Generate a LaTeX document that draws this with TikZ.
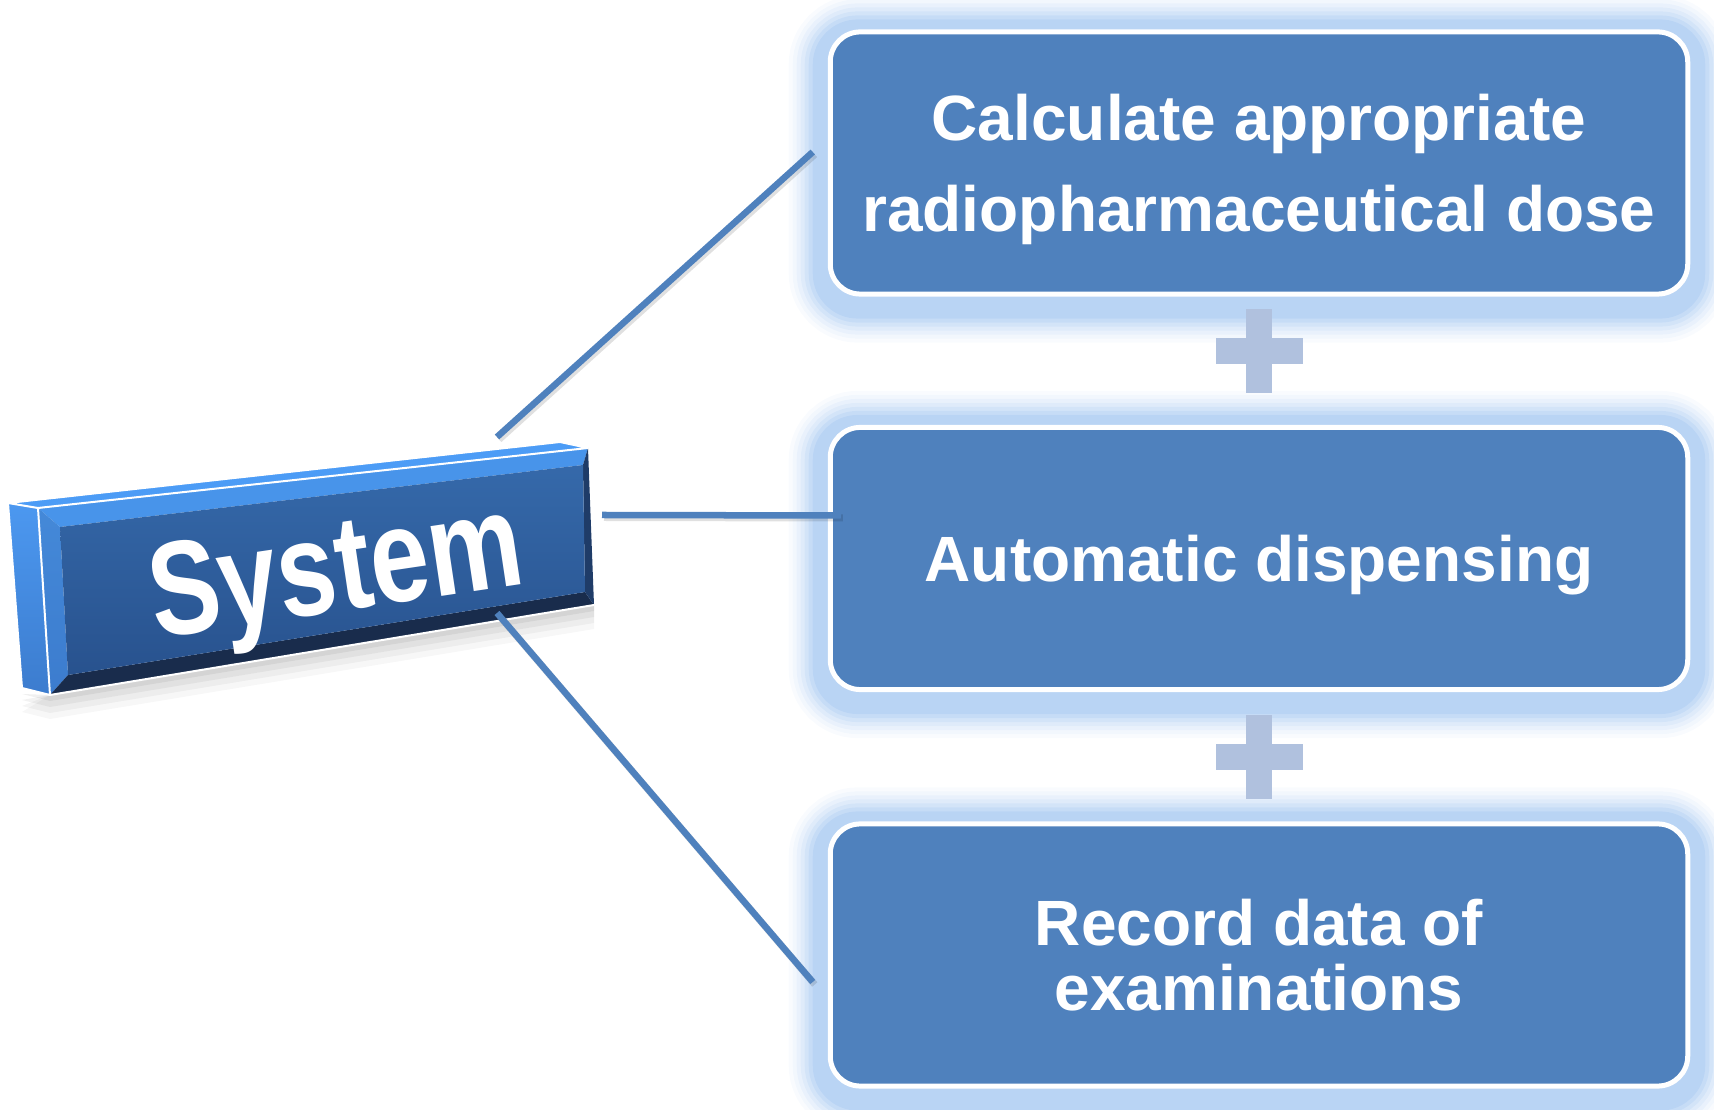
\documentclass[tikz,border=0pt]{standalone}
\usepackage{fontspec}
\setmainfont{Liberation Sans}
\usetikzlibrary{positioning,backgrounds,calc}
\definecolor{boxblue}{RGB}{79,129,189}
\definecolor{glowblue}{RGB}{169,202,242}
\definecolor{plusgray}{RGB}{176,193,222}
\definecolor{systop}{RGB}{76,156,246}
\definecolor{syssidetop}{RGB}{76,152,240}
\definecolor{syssidebot}{RGB}{60,124,206}
\definecolor{sysfacetop}{RGB}{53,105,170}
\definecolor{sysfacebot}{RGB}{40,82,142}
\definecolor{sysbottom}{RGB}{25,44,76}
\definecolor{sysright}{RGB}{31,60,104}

\begin{document}
\begin{tikzpicture}[x=0.01cm,y=-0.01cm,
    taskbox/.style={draw=white,line width=0.05cm,fill=boxblue,rounded corners=0.3cm,
        minimum width=8.57cm,minimum height=2.62cm,text=white,align=center,
        text depth=0pt,font=\fontsize{18.2}{26}\selectfont\bfseries},
    link/.style={boxblue,line width=0.065cm,
        preaction={draw=black,opacity=0.12,line width=0.07cm,
            transform canvas={shift={(0.02cm,-0.025cm)}}}},
    sysedge/.style={draw=white,line width=0.02cm,line join=round}]
\useasboundingbox (0,0) rectangle (1714,1110);

% task boxes
\node[taskbox] (calc) at (1259,163) {Calculate appropriate\\radiopharmaceutical dose};
\node[taskbox] (disp) at (1259,558.5) {Automatic dispensing};
\node[taskbox,font=\fontsize{18.2}{18.6}\selectfont\bfseries] (rec) at (1259,955)
    {Record data of\\examinations};

% soft glow behind the boxes
\begin{scope}[on background layer]
    \foreach \b in {calc,disp,rec}{
        \foreach \w/\o in {0.78/0.07,0.7/0.09,0.62/0.12,0.54/0.16,0.46/0.22,0.38/0.3,0.3/0.45}{
            \draw[glowblue,opacity=\o,line width=\w cm,rounded corners=0.3cm]
                ([yshift=-0.05cm]\b.north west) rectangle ([yshift=-0.07cm]\b.south east);
        }
    }
\end{scope}

% plus signs between the boxes
\foreach \y in {351,757}{
    \fill[plusgray] (1246,\y-42) rectangle (1272,\y+42);
    \fill[plusgray] (1216,\y-13) rectangle (1303,\y+13);
}

% shadow under the System block
\foreach \d/\o in {24/0.03,18/0.04,12/0.05,6/0.06}{
    \fill[black,opacity=\o] (22,688+\d) -- (50,695+\d) -- (594,605+\d) -- (594,605) -- (50,695) -- cycle;
}

% System block
\fill[systop] (8,503) -- (560,442) -- (588,448) -- (38,508) -- cycle;
\shade[top color=syssidetop,bottom color=syssidebot]
    (8,503) -- (38,508) -- (50,695) -- (22,688) -- cycle;
\fill[systop!95!black] (38,508) -- (588,448) -- (583,465) -- (60,527) -- cycle;
\shade[top color=syssidetop!90!black,bottom color=syssidebot]
    (38,508) -- (60,527) -- (68,675) -- (50,695) -- cycle;
\fill[sysbottom] (50,695) -- (68,675) -- (585,592) -- (594,605) -- cycle;
\fill[sysright] (588,448) -- (594,605) -- (585,592) -- (583,465) -- cycle;
\shade[top color=sysfacetop,bottom color=sysfacebot]
    (60,527) -- (583,465) -- (585,592) -- (68,675) -- cycle;
\draw[sysedge] (8,503) -- (560,442) -- (588,448) -- (38,508) -- cycle;
\draw[sysedge] (38,508) -- (50,695) -- (22,688) -- (8,503);
\draw[sysedge] (50,695) -- (594,605);
\node[anchor=base,transform shape,rotate=8.5,xscale=0.79,text=white,
    font=\fontsize{38}{40}\selectfont\bfseries] (sys) at (342,611) {System};

% connector ends on the block
\coordinate (sysN) at (497,437);
\coordinate (sysE) at (602,515);
\coordinate (sysS) at (497,613);

% connectors
\draw[link] (sysN) -- ([shift={(-15,-11)}]calc.west);
\draw[link] (sysE) -- ([shift={(13,-43)}]disp.west);
\draw[link] (sysS) -- ([shift={(-15,27)}]rec.west);
\end{tikzpicture}
\end{document}
